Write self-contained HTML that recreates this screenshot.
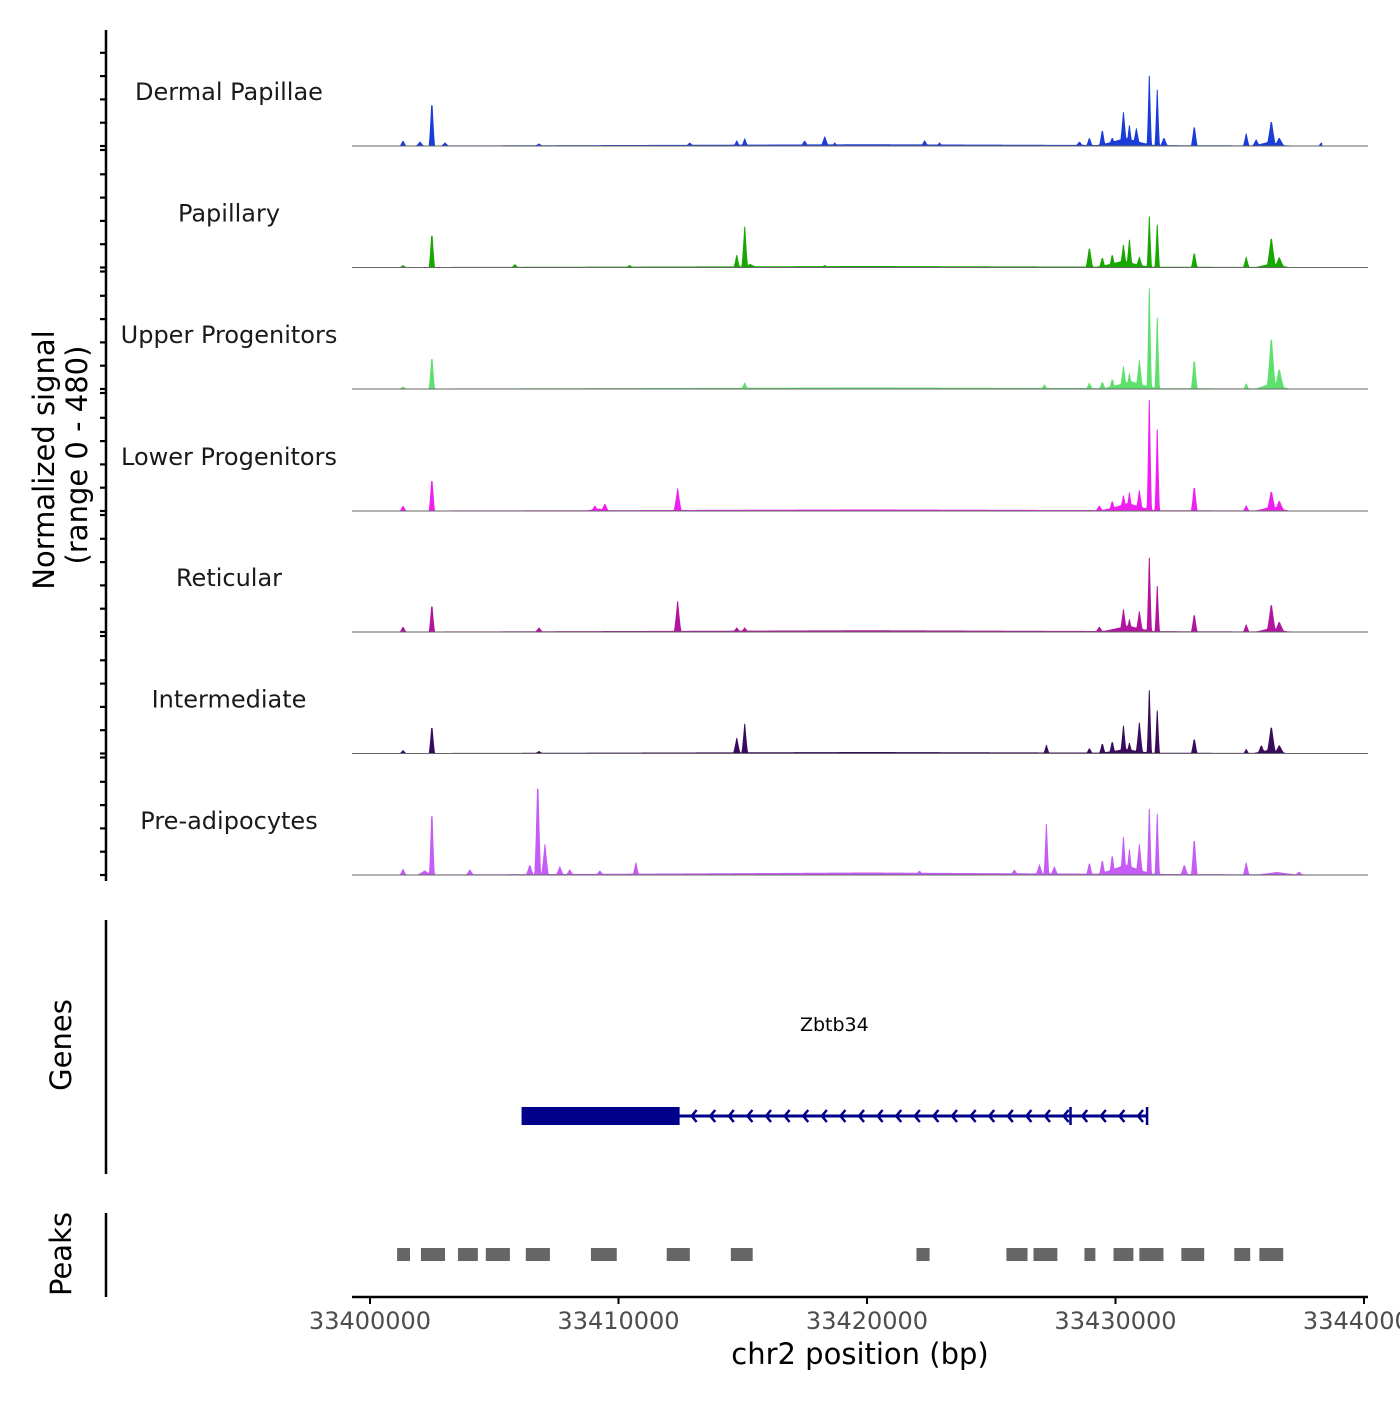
<!DOCTYPE html>
<html><head><meta charset="utf-8"><style>
body{margin:0;background:#fff}
svg{font-family:"DejaVu Sans","Liberation Sans",sans-serif}
</style></head><body>
<svg id="chart" width="1400" height="1400" viewBox="0 0 1400 1400" xmlns="http://www.w3.org/2000/svg">
<g id="tracks"></g>
<g id="axes"></g>
<text x="54" y="460" font-size="29" fill="#000" text-anchor="middle" transform="rotate(-90 54 460)">Normalized signal</text>
<text x="87" y="455" font-size="29" fill="#000" text-anchor="middle" transform="rotate(-90 87 455)">(range 0 - 480)</text>
<text x="71" y="1045" font-size="29" fill="#000" text-anchor="middle" transform="rotate(-90 71 1045)">Genes</text>
<text x="71" y="1254" font-size="29" fill="#000" text-anchor="middle" transform="rotate(-90 71 1254)">Peaks</text>
<line x1="106" y1="920" x2="106" y2="1174" stroke="#000" stroke-width="2.5"/>
<line x1="106" y1="1213" x2="106" y2="1297" stroke="#000" stroke-width="2.5"/>
<g id="gene"></g>
<g id="peaks"></g>
<text x="860" y="1364" font-size="29" fill="#000" text-anchor="middle">chr2 position (bp)</text>
</svg>
<script>
const NS="http://www.w3.org/2000/svg";
const trackNames=["Dermal Papillae","Papillary","Upper Progenitors","Lower Progenitors","Reticular","Intermediate","Pre-adipocytes"];
const trackColors=["#1a3cd8","#17a800","#5ee06e","#f01ef0","#b3149f","#3a0b5c","#c55cf5"];
// peaks: [position kb offset from 33400000, signal, halfwidth bp]
const dpPeaks=[[1.33,20,120],[2.01,16,150],[2.49,180,110],[3.02,12,150],[6.8,8,150],[12.87,12,150],[14.76,20,120],[15.08,28,120],[17.49,20,150],[18.3,36,150],[18.7,12,120],[22.32,20,150],[22.92,12,120],[28.55,16,150],[28.95,32,120],[29.47,64,120],[29.87,32,150],[30.32,132,140],[30.56,80,120],[30.84,68,150],[31.36,276,90],[31.68,220,90],[31.95,32,150],[30.4,30,1300],[33.17,80,120],[35.26,48,120],[35.66,24,150],[36.27,100,180],[36.59,32,200],[36.2,16,700],[38.28,12,100],[20,5,19000]];
const papPeaks=[[1.33,8,120],[2.49,140,110],[5.83,12,120],[10.45,8,150],[14.76,48,120],[15.08,160,120],[15.3,12,300],[18.3,8,150],[28.95,80,140],[29.47,40,120],[29.87,52,120],[30.32,88,140],[30.56,108,120],[30.96,40,150],[31.36,200,90],[31.68,168,90],[30.3,25,1200],[33.17,60,120],[35.26,40,120],[36.27,120,180],[36.59,40,200],[36.3,16,700],[20,4,19000]];
const upPeaks=[[1.33,8,120],[2.49,132,110],[15.08,24,120],[27.14,16,120],[28.95,24,120],[29.47,28,120],[29.87,40,120],[30.32,88,140],[30.56,60,120],[30.96,112,140],[31.36,396,90],[31.68,280,90],[30.6,30,1200],[33.17,120,120],[35.26,20,100],[36.27,208,180],[36.59,80,200],[36.3,24,700],[20,4,19000]];
const lpPeaks=[[1.33,20,120],[2.49,132,110],[9.05,20,150],[9.45,28,150],[9.2,8,600],[12.38,88,150],[29.35,20,150],[29.87,40,120],[30.32,60,140],[30.56,72,120],[30.96,80,140],[31.36,436,90],[31.68,320,90],[30.5,30,1200],[33.17,100,120],[35.26,20,120],[36.27,80,180],[36.59,40,200],[36.3,18,700],[20,4,19000]];
const retPeaks=[[1.33,20,120],[2.49,112,110],[6.8,16,150],[12.38,120,140],[14.76,16,150],[15.08,16,150],[29.35,20,150],[30.32,88,140],[30.56,48,120],[30.96,80,140],[31.36,292,90],[31.68,180,90],[30.5,24,1200],[33.17,72,120],[35.26,28,120],[36.27,112,180],[36.59,40,200],[36.3,16,700],[20,5,19000]];
const intPeaks=[[1.33,12,120],[2.49,112,110],[6.8,8,150],[14.76,60,140],[15.08,116,120],[27.22,32,110],[28.95,20,120],[29.47,40,120],[29.87,48,120],[30.32,108,120],[30.56,40,120],[30.96,120,140],[31.36,248,90],[31.68,168,90],[30.4,16,1200],[33.17,60,120],[35.26,16,100],[35.87,32,150],[36.27,108,180],[36.59,32,200],[36.2,14,700],[20,4,19000]];
const preAdPeaks=[[1.33,24,120],[2.49,264,100],[2.2,16,300],[4.02,20,150],[6.43,40,150],[6.75,380,120],[7.04,120,140],[7.64,32,150],[8.04,20,150],[9.25,16,150],[10.7,48,120],[22.11,16,150],[25.93,20,150],[26.94,40,150],[27.22,200,100],[27.54,32,150],[28.95,48,120],[29.47,60,120],[29.87,80,120],[30.32,148,120],[30.56,100,120],[30.96,120,140],[31.36,260,90],[31.68,240,90],[30.4,40,1300],[32.77,40,150],[33.17,148,120],[35.26,48,120],[37.39,12,150],[36.5,10,900],[20,8,19000]];
const trackPeaks=[dpPeaks,papPeaks,upPeaks,lpPeaks,retPeaks,intPeaks,preAdPeaks];
const xTicks=[33400000,33410000,33420000,33430000,33440000];
const geneName="Zbtb34";
const geneStart=33406100, geneEnd=33431270, cdsStart=33406100, cdsEnd=33412460, exonMark=33428190;
const peakRegions=[[1.09,1.61],[2.05,3.02],[3.54,4.34],[4.66,5.63],[6.27,7.24],[8.89,9.93],[11.94,12.87],[14.52,15.40],[21.99,22.52],[25.61,26.46],[26.70,27.66],[28.75,29.19],[29.92,30.72],[30.96,31.93],[32.65,33.57],[34.78,35.42],[35.79,36.75]];
const START=33400000, DATA_START=33401200, DATA_END=33438300, YMAX=480;
const X0=370, PXPERBP=(1364-370)/40000;
const xs=bp=>X0+(bp-START)*PXPERBP;
const baselines=[146,267.5,389,511,632,753.5,875], TH=121.5;
const ys=(v,i)=>baselines[i]-v/YMAX*TH;

const tracks=document.getElementById('tracks');
function mk(tag,attrs,parent){const e=document.createElementNS(NS,tag);for(const k in attrs)e.setAttribute(k,attrs[k]);parent.appendChild(e);return e;}
trackPeaks.forEach((peaks,i)=>{
  const g=mk('g',{},tracks);
  
  
  let d='M'+xs(DATA_START)+','+baselines[i];
  for(let bp=DATA_START;bp<=DATA_END;bp+=20){
    let v=0;
    peaks.forEach(p=>{const c=START+p[0]*1000;const t=1-Math.abs(bp-c)/p[2];if(t>0)v=Math.max(v,p[1]*Math.pow(t,1.3));});
    d+='L'+xs(bp).toFixed(2)+','+ys(v,i).toFixed(2);
  }
  d+='L'+xs(DATA_END)+','+baselines[i]+'Z';
  const a=mk('path',{d:d,fill:trackColors[i],stroke:trackColors[i],'stroke-width':1,'stroke-linejoin':'round'},g);
  
  
  const b=mk('line',{x1:352,x2:1368,y1:baselines[i],y2:baselines[i],stroke:'#666','stroke-width':1},g);
  
  
  const t=mk('text',{x:229,y:baselines[i]-46,'font-size':24,fill:'#1a1a1a','text-anchor':'middle'},g);
  t.textContent=trackNames[i];
  
  
});
const axes=document.getElementById('axes');
const yl=mk('line',{x1:106,x2:106,y1:30,y2:881,stroke:'#000','stroke-width':2.5},axes);


baselines.forEach((b,i)=>{for(let k=0;k<5;k++){const y=b-k*23.3;if(y<30)continue;
  const tk=mk('line',{x1:100,x2:106,y1:y,y2:y,stroke:'#000','stroke-width':2.2},axes);
  
  }
  if(i<6){const tk=mk('line',{x1:100,x2:106,y1:b+4,y2:b+4,stroke:'#000','stroke-width':2.2},axes);
  
  }
});
const xl=mk('line',{x1:352,x2:1368,y1:1297,y2:1297,stroke:'#000','stroke-width':2.5},axes);


xTicks.forEach(v=>{
  const tk=mk('line',{x1:xs(v),x2:xs(v),y1:1297,y2:1304,stroke:'#000','stroke-width':2},axes);
  
  
  const t=mk('text',{x:xs(v),y:1329,'font-size':24,fill:'#4d4d4d','text-anchor':'middle'},axes);
  t.textContent=v;
  
  
});
const gene=document.getElementById('gene');
const gl=mk('text',{x:(xs(geneStart)+xs(geneEnd))/2+0,y:1031,'font-size':19,fill:'#000','text-anchor':'middle'},gene);
gl.textContent=geneName;


const gline=mk('line',{x1:xs(geneStart),x2:xs(geneEnd),y1:1116,y2:1116,stroke:'#00008b','stroke-width':3},gene);


const cds=mk('rect',{x:xs(cdsStart),y:1107,width:xs(cdsEnd)-xs(cdsStart),height:18,fill:'#00008b'},gene);


[exonMark,geneEnd].forEach(p=>{const m=mk('line',{x1:xs(p),x2:xs(p),y1:1107,y2:1125,stroke:'#00008b','stroke-width':2.5},gene);
  
  });
for(let x=xs(cdsEnd)+12;x<xs(geneEnd)-4;x+=18.6){
  const ar=mk('path',{d:`M${x+5},1110 L${x},1116 L${x+5},1122`,stroke:'#00008b','stroke-width':2.5,fill:'none'},gene);
  
  
}
const pk=document.getElementById('peaks');
peakRegions.forEach(r=>{
  const e=mk('rect',{x:xs(START+r[0]*1000),y:1248,width:xs(START+r[1]*1000)-xs(START+r[0]*1000),height:13,fill:'#666'},pk);
  
  
});
</script>
</body></html>
